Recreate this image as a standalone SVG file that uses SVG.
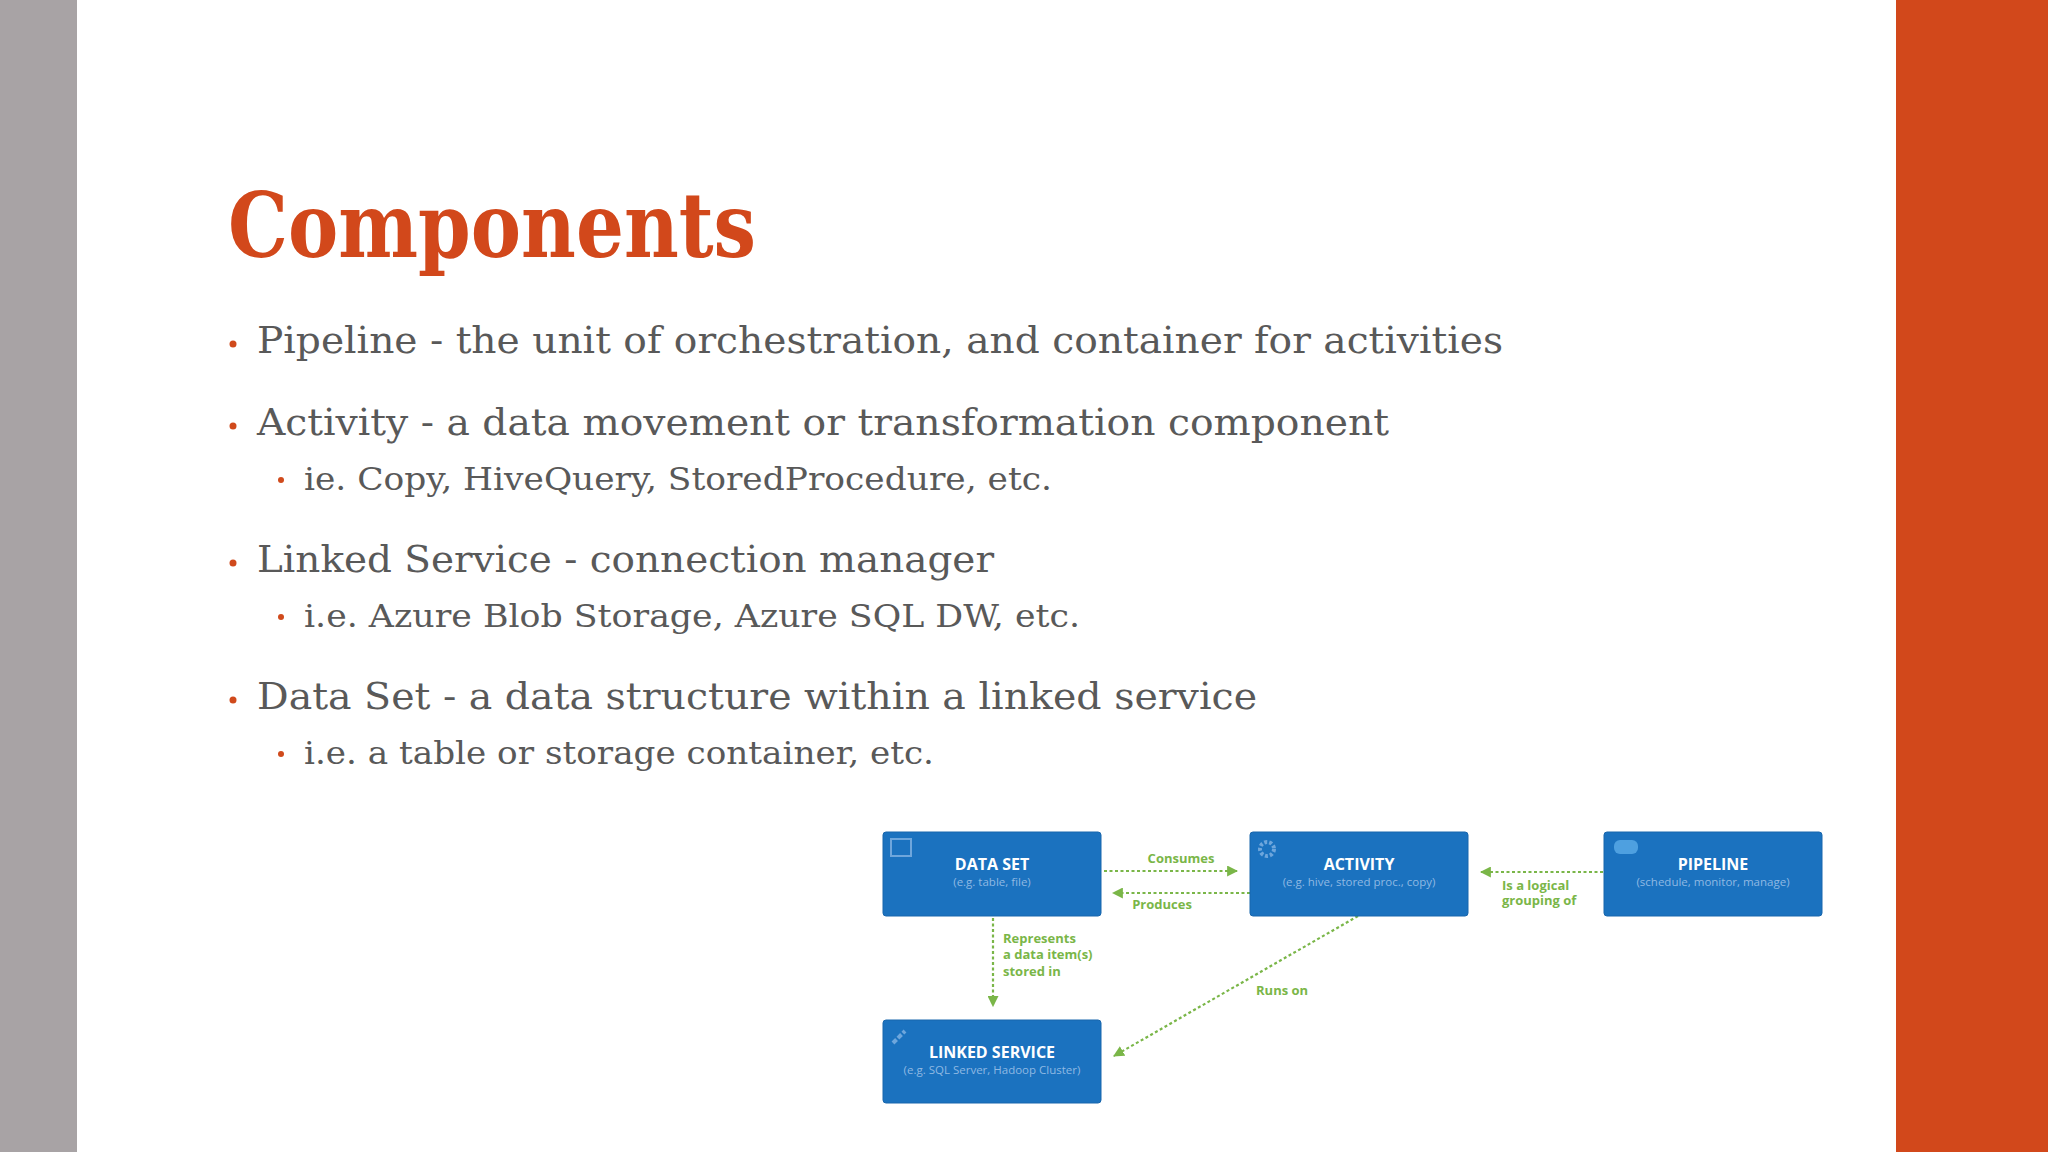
<svg xmlns="http://www.w3.org/2000/svg" width="2048" height="1152" viewBox="0 0 2048 1152">
<defs>
<style>
.b{font-family:"DejaVu Serif","Liberation Serif",serif;fill:#595959}
.l1{font-size:37px}.l2{font-size:31px}
.dot{fill:#d04a1c}
.box{fill:#1b72bf;stroke:#1866ad;stroke-width:1}
.t{font-family:"Open Sans","Liberation Sans",sans-serif;font-weight:bold;fill:#fff;font-size:16px;text-anchor:middle}
.s{font-family:"Open Sans","Liberation Sans",sans-serif;fill:#8fb9e3;font-size:11.5px;text-anchor:middle}
.c{stroke:#7ab648;stroke-width:2.2;stroke-dasharray:3 2.5;fill:none}
.g{font-family:"Open Sans","Liberation Sans",sans-serif;font-weight:bold;fill:#7ab648;font-size:13px}
</style>
<marker id="a" viewBox="0 0 10 10" refX="9" refY="5" markerWidth="5" markerHeight="5" orient="auto"><path d="M0,0L10,5L0,10z" fill="#7ab648"/></marker>
</defs>
<rect width="2048" height="1152" fill="#fff"/>
<rect x="0" y="0" width="77" height="1152" fill="#a8a3a5"/>
<rect x="1896" y="0" width="152" height="1152" fill="#d2481b"/>
<text x="228" y="257" font-family="DejaVu Serif,Liberation Serif,serif" font-weight="bold" font-size="90" fill="#d2481b" textLength="528" lengthAdjust="spacingAndGlyphs">Components</text>
<g id="bullets">
<circle class="dot" cx="233" cy="344" r="3.5"/><text class="b l1" x="257" y="353" textLength="1246" lengthAdjust="spacingAndGlyphs">Pipeline - the unit of orchestration, and container for activities</text>
<circle class="dot" cx="233" cy="426" r="3.5"/><text class="b l1" x="257" y="435" textLength="1132" lengthAdjust="spacingAndGlyphs">Activity - a data movement or transformation component</text>
<circle class="dot" cx="281" cy="480" r="3"/><text class="b l2" x="304" y="490" textLength="748" lengthAdjust="spacingAndGlyphs">ie. Copy, HiveQuery, StoredProcedure, etc.</text>
<circle class="dot" cx="233" cy="563" r="3.5"/><text class="b l1" x="257" y="572" textLength="737" lengthAdjust="spacingAndGlyphs">Linked Service - connection manager</text>
<circle class="dot" cx="281" cy="617" r="3"/><text class="b l2" x="304" y="627" textLength="776" lengthAdjust="spacingAndGlyphs">i.e. Azure Blob Storage, Azure SQL DW, etc.</text>
<circle class="dot" cx="233" cy="700" r="3.5"/><text class="b l1" x="257" y="709" textLength="1000" lengthAdjust="spacingAndGlyphs">Data Set - a data structure within a linked service</text>
<circle class="dot" cx="281" cy="754" r="3"/><text class="b l2" x="304" y="764" textLength="630" lengthAdjust="spacingAndGlyphs">i.e. a table or storage container, etc.</text>
</g>
<g id="connectors">
<line class="c" x1="1104" y1="871" x2="1237" y2="871" marker-end="url(#a)"/>
<line class="c" x1="1250" y1="893" x2="1113" y2="893" marker-end="url(#a)"/>
<line class="c" x1="1603" y1="872" x2="1481" y2="872" marker-end="url(#a)"/>
<line class="c" x1="993" y1="918" x2="993" y2="1006" marker-end="url(#a)"/>
<line class="c" x1="1358" y1="916" x2="1114" y2="1056" marker-end="url(#a)"/>
<text class="g" x="1181" y="863" text-anchor="middle">Consumes</text>
<text class="g" x="1162" y="909" text-anchor="middle">Produces</text>
<text class="g" x="1502" y="890">Is a logical</text>
<text class="g" x="1502" y="905">grouping of</text>
<text class="g" x="1003" y="943">Represents</text>
<text class="g" x="1003" y="959">a data item(s)</text>
<text class="g" x="1003" y="976">stored in</text>
<text class="g" x="1256" y="995">Runs on</text>
</g>
<g id="dataset"><rect class="box" x="883" y="832" width="218" height="84" rx="3"/>
<rect x="891" y="839" width="20" height="17" fill="none" stroke="#6ea6dc" stroke-width="2"/>
<text class="t" x="992" y="870">DATA SET</text><text class="s" x="992" y="886">(e.g. table, file)</text></g>
<g id="activity"><rect class="box" x="1250" y="832" width="218" height="84" rx="3"/>
<circle cx="1267" cy="849" r="7" fill="none" stroke="#6ea6dc" stroke-width="4" stroke-dasharray="3 2"/>
<text class="t" x="1359" y="870">ACTIVITY</text><text class="s" x="1359" y="886">(e.g. hive, stored proc., copy)</text></g>
<g id="pipeline"><rect class="box" x="1604" y="832" width="218" height="84" rx="3"/>
<rect x="1614" y="840" width="24" height="14" rx="6" fill="#4ea0e0"/>
<text class="t" x="1713" y="870">PIPELINE</text><text class="s" x="1713" y="886">(schedule, monitor, manage)</text></g>
<g id="linkedservice"><rect class="box" x="883" y="1020" width="218" height="83" rx="3"/>
<path d="M893,1043l12,-12" stroke="#6ea6dc" stroke-width="4" stroke-dasharray="5 2"/>
<text class="t" x="992" y="1058">LINKED SERVICE</text><text class="s" x="992" y="1074">(e.g. SQL Server, Hadoop Cluster)</text></g>
</svg>
